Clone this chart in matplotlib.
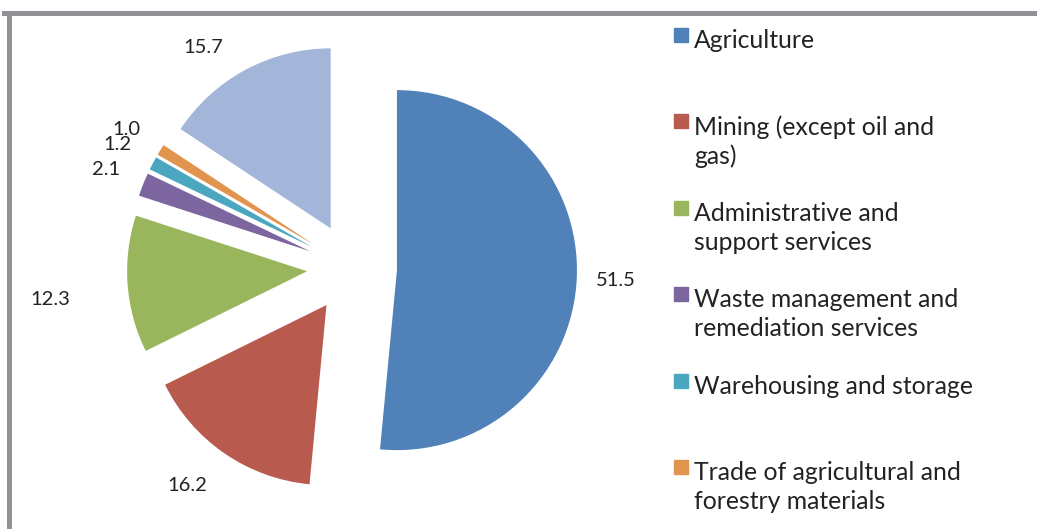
import matplotlib.pyplot as plt
from matplotlib.lines import Line2D
from matplotlib.patches import Rectangle

plt.rcParams['font.family'] = ['Lato', 'DejaVu Sans']

# data
categories = ["Agriculture", "Mining (except oil and\ngas)",
              "Administrative and\nsupport services",
              "Waste management and\nremediation services",
              "Warehousing and storage",
              "Trade of agricultural and\nforestry materials", "Other"]
values = [51.5, 16.2, 12.3, 2.1, 1.2, 1.0, 15.7]
colors = ["#5082B9", "#B95A4F", "#9AB65C", "#7D65A0", "#4BA6BF",
          "#E0944E", "#A3B5D8"]

W, H = 1037, 529
fig = plt.figure(figsize=(W / 100, H / 100), dpi=100)

# pie centre and radius in pixels, axes fills the figure
cx, cy, r = 352, 268, 180
ax = fig.add_axes([0, 0, 1, 1])
wedges, texts, autotexts = ax.pie(
    values, colors=colors, startangle=90, counterclock=False,
    explode=[0.25] * len(values), autopct='%.1f', pctdistance=1.22,
    wedgeprops=dict(linewidth=0), textprops=dict(fontsize=14.5, color='#222222'))
ax.set_aspect('auto')
ax.set_xlim(-cx / r, (W - cx) / r)
ax.set_ylim(-(H - cy) / r, cy / r)
ax.axis('off')

# small nudges so the labels sit where the original puts them
nudges = {1: (-0.08, 0.0), 2: (-0.21, -0.07), 6: (-0.13, -0.07)}
for i, (dx, dy) in nudges.items():
    x, y = autotexts[i].get_position()
    autotexts[i].set_position((x + dx, y + dy))

# legend drawn by hand: one row every 86 px, only six rows fit
for i in range(6):
    ytop = 28 + i * 86.4
    fig.patches.append(Rectangle((674 / W, 1 - (ytop + 14) / H), 14 / W, 14 / H,
                                 transform=fig.transFigure, color=colors[i]))
    fig.text(694 / W, 1 - (ytop + 1) / H, categories[i], fontsize=17.8,
             va='top', ha='left', color='#222222', linespacing=1.3)

# grey frame at the top and left
fig.add_artist(Line2D([4 / W, 1], [1 - 12.5 / H] * 2, color='#929296', lw=3.6,
                      transform=fig.transFigure))
fig.add_artist(Line2D([8.5 / W] * 2, [0, 1 - 12.5 / H], color='#929296', lw=3.6,
                      transform=fig.transFigure))

fig.savefig('out.png', dpi=100)
